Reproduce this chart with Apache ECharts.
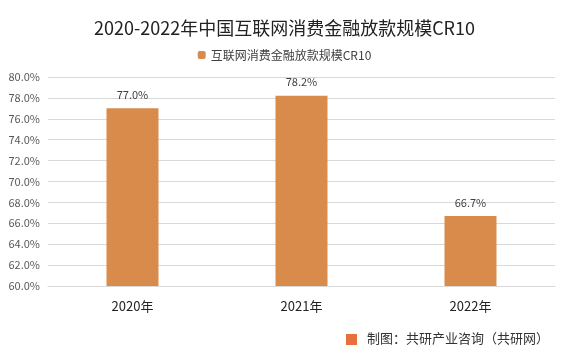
<!DOCTYPE html>
<html>
<head>
<meta charset="utf-8">
<script src="https://cdn.jsdelivr.net/npm/echarts@6/dist/echarts.min.js"></script>
<style>
  html, body { margin: 0; padding: 0; background: #fff; }
  #graphics { width: 569px; height: 354px; }
</style>
</head>
<body>
<div id="graphics"></div>
<script>
// chart data
const years = ['2020年', '2021年', '2022年'];
const cr10 = [77.0, 78.2, 66.7];
const seriesName = '互联网消费金融放款规模CR10';

var myChart = echarts.init(document.getElementById('graphics'));

var option = {
    backgroundColor: '#fff',
    textStyle: { fontFamily: '"Noto Sans CJK SC", "Open Sans", sans-serif' },
    title: {
        text: '2020-2022年中国互联网消费金融放款规模CR10',
        left: 'center',
        top: 14,
        textStyle: { fontSize: 18, fontWeight: 'normal', color: '#222' }
    },
    legend: {
        data: [seriesName],
        top: 44,
        left: 'center',
        itemWidth: 8,
        itemHeight: 8,
        itemGap: 6,
        textStyle: { fontSize: 12, color: '#404040' }
    },
    grid: { left: 48, right: 14, top: 77, bottom: 68 },
    xAxis: {
        type: 'category',
        data: years,
        axisTick: { show: false },
        axisLine: { lineStyle: { color: '#d9d9d9' } },
        axisLabel: { fontSize: 13, color: '#222', margin: 14 }
    },
    yAxis: {
        type: 'value',
        min: 60,
        max: 80,
        interval: 2,
        axisLine: { show: false },
        axisTick: { show: false },
        axisLabel: {
            fontSize: 11,
            color: '#595959',
            margin: 8,
            formatter: function (v) { return v.toFixed(1) + '%'; }
        },
        splitLine: { lineStyle: { color: '#d9d9d9' } }
    },
    series: [{
        name: seriesName,
        type: 'bar',
        data: cr10,
        barWidth: 52,
        itemStyle: { color: '#D98B4C' },
        label: {
            show: true,
            position: 'top',
            distance: 8,
            fontSize: 11,
            color: '#404040',
            formatter: function (p) { return p.value.toFixed(1) + '%'; }
        }
    }],
    graphic: [{
        type: 'rect',
        right: 212,
        top: 334,
        shape: { width: 11, height: 11 },
        style: { fill: '#E8703A' }
    }, {
        type: 'text',
        right: 20,
        top: 332,
        style: {
            text: '制图：共研产业咨询（共研网）',
            fontSize: 13,
            fill: '#333',
            fontFamily: '"Noto Sans CJK SC", sans-serif'
        }
    }]
};

myChart.setOption(option);
</script>
</body>
</html>
